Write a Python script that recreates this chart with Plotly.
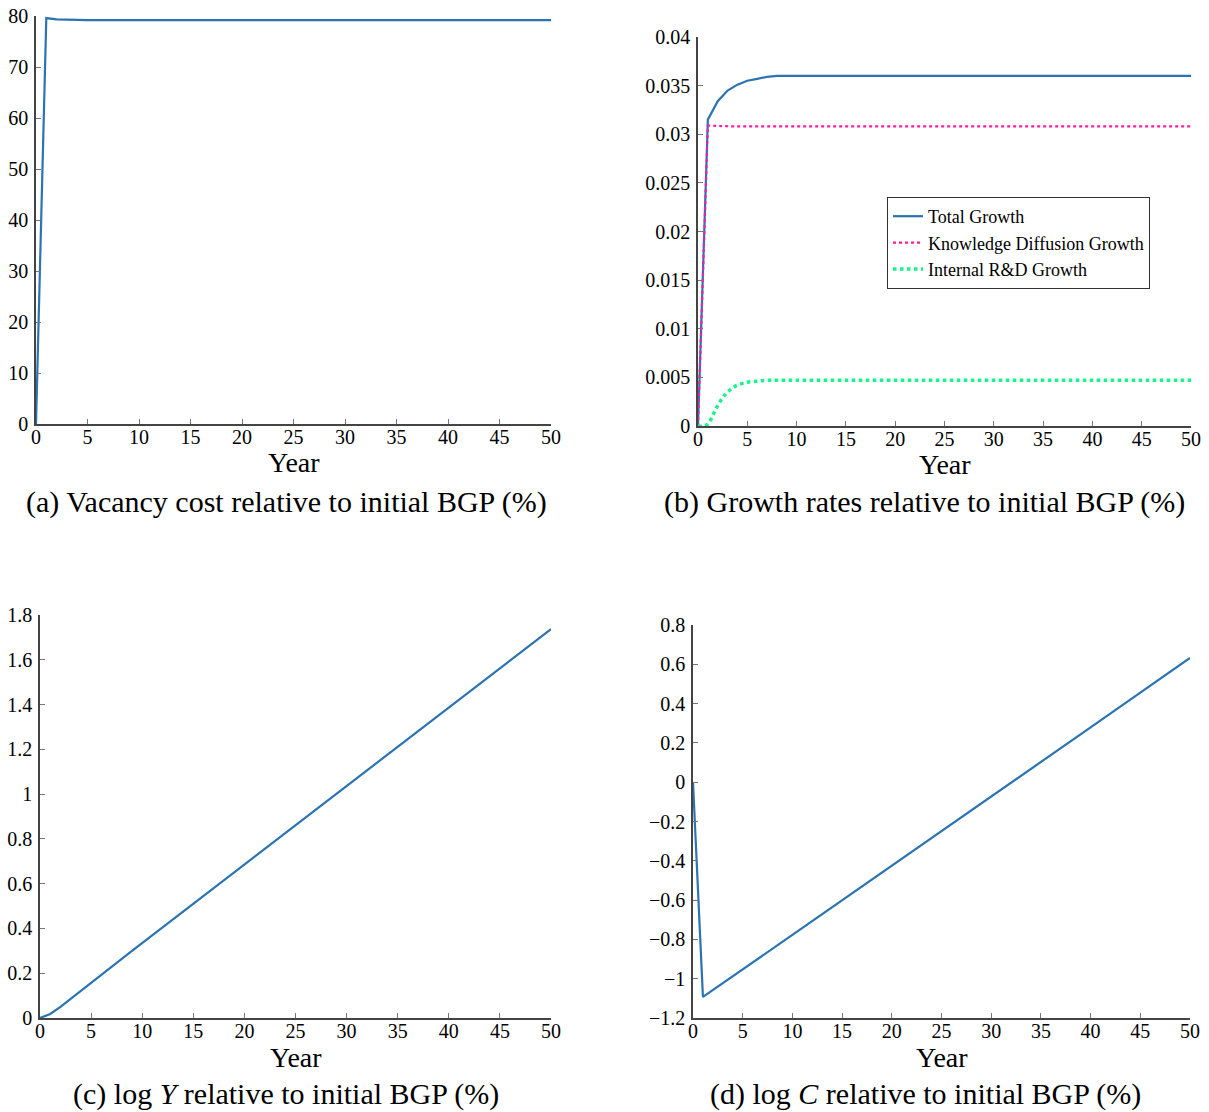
import plotly.graph_objects as go

# ---- data ----
yrs_a = [0, 1, 2, 3, 4, 5, 10, 20, 30, 40, 50]
vac_cost = [0, 79.6, 79.35, 79.25, 79.22, 79.2, 79.2, 79.2, 79.2, 79.2, 79.2]

yrs_b = [0, 1, 2, 3, 4, 5, 6, 7, 8, 9, 10, 20, 30, 40, 50]
total_growth = [0, 0.0315, 0.0334, 0.0345, 0.0351, 0.0355, 0.0357, 0.0359, 0.036, 0.036,
                0.036, 0.036, 0.036, 0.036, 0.036]
diffusion_growth = [0, 0.0309, 0.03085, 0.0308, 0.0308, 0.0308, 0.0308, 0.0308, 0.0308, 0.0308,
                    0.0308, 0.0308, 0.0308, 0.0308, 0.0308]
yrs_g = [0, 0.5, 1, 1.5, 2, 2.5, 3, 3.5, 4, 5, 6, 7, 8, 10, 20, 30, 40, 50]
internal_growth = [0, 0, 0.0002, 0.0011, 0.0021, 0.0029, 0.0035, 0.0039, 0.0042, 0.0045,
                   0.0046, 0.0047, 0.0047, 0.0047, 0.0047, 0.0047, 0.0047, 0.0047]

yrs_c = [0, 1, 2, 3, 4, 5, 6, 7, 8, 9, 10, 20, 30, 40, 50]
log_y = [0, 0.018, 0.05, 0.085, 0.122, 0.158, 0.193, 0.228, 0.264, 0.3, 0.335,
         0.685, 1.036, 1.386, 1.737]

yrs_d = [0, 1, 10, 20, 30, 40, 50]
log_c = [0, -1.093, -0.777, -0.426, -0.076, 0.279, 0.632]

x_ticks = [0, 5, 10, 15, 20, 25, 30, 35, 40, 45, 50]

captions = ["(a) Vacancy cost relative to initial BGP (%)",
            "(b) Growth rates relative to initial BGP (%)",
            "(c) log <i>Y</i> relative to initial BGP (%)",
            "(d) log <i>C</i> relative to initial BGP (%)"]

BLUE = "#2b73b2"
PINK = "#ff1aa0"
GREEN = "#14f58a"
FONT = "Liberation Serif"
W, H = 1209, 1112

fig = go.Figure()

def px_x(p):
    return p / W

def px_y(p):
    return 1 - p / H

# panel domains (pixels -> paper); caption centre x and y in pixels
panels = {
    1: dict(x=(36, 551), y=(16, 424), yr=[0, 80], dt=10, cap=(286, 502)),
    2: dict(x=(698, 1191), y=(37, 426), yr=[0, 0.04], dt=0.005, cap=(924, 502)),
    3: dict(x=(40, 551), y=(615, 1018), yr=[0, 1.8], dt=0.2, cap=(286, 1094)),
    4: dict(x=(693, 1190), y=(625, 1018), yr=[-1.2, 0.8], dt=0.2, cap=(925, 1094)),
}

fig.add_trace(go.Scatter(x=yrs_a, y=vac_cost, mode="lines", line=dict(color=BLUE, width=2.2),
                         xaxis="x", yaxis="y", showlegend=False))
fig.add_trace(go.Scatter(x=yrs_b, y=total_growth, mode="lines", name="Total Growth",
                         line=dict(color=BLUE, width=2.2), xaxis="x2", yaxis="y2"))
fig.add_trace(go.Scatter(x=yrs_b, y=diffusion_growth, mode="lines", name="Knowledge Diffusion Growth",
                         line=dict(color=PINK, width=2.2, dash="3px,3px"), xaxis="x2", yaxis="y2"))
fig.add_trace(go.Scatter(x=yrs_g, y=internal_growth, mode="lines", name="Internal R&amp;D Growth",
                         line=dict(color=GREEN, width=3.5, dash="dot", shape="spline"),
                         xaxis="x2", yaxis="y2"))
fig.add_trace(go.Scatter(x=yrs_c, y=log_y, mode="lines", line=dict(color=BLUE, width=2.2),
                         xaxis="x3", yaxis="y3", showlegend=False))
fig.add_trace(go.Scatter(x=yrs_d, y=log_c, mode="lines", line=dict(color=BLUE, width=2.2),
                         xaxis="x4", yaxis="y4", showlegend=False))

layout = dict(
    width=W, height=H, margin=dict(l=0, r=0, t=0, b=0, autoexpand=False),
    paper_bgcolor="white", plot_bgcolor="white",
    font=dict(family=FONT, color="black", size=18),
    legend=dict(x=px_x(887), y=px_y(197), xanchor="left", yanchor="top",
                bordercolor="#333", borderwidth=1, bgcolor="white",
                font=dict(family=FONT, size=18), tracegroupgap=0,
                itemwidth=30, traceorder="normal"),
)

annotations = []
for i, p in panels.items():
    s = "" if i == 1 else str(i)
    layout["xaxis" + s] = dict(
        domain=[px_x(p["x"][0]), px_x(p["x"][1])], anchor="y" + s, range=[0, 50],
        tickvals=x_ticks, ticks="inside", ticklen=5, tickcolor="#777", tickwidth=1,
        showline=True, linecolor="#444", linewidth=1.5, showgrid=False, zeroline=False,
        tickfont=dict(family=FONT, size=20), ticklabelstandoff=-6, automargin=False,
    )
    layout["yaxis" + s] = dict(
        domain=[px_y(p["y"][1]), px_y(p["y"][0])], anchor="x" + s, range=p["yr"],
        dtick=p["dt"], tick0=0, ticks="inside", ticklen=5, tickcolor="#777", tickwidth=1,
        showline=True, linecolor="#444", linewidth=1.5, showgrid=False, zeroline=False,
        tickfont=dict(family=FONT, size=20), ticklabelstandoff=2, automargin=False,
    )
    # x-axis title "Year"
    cx = (p["x"][0] + p["x"][1]) / 2
    annotations.append(dict(text="Year", x=px_x(cx), y=px_y(p["y"][1] + 39),
                            xref="paper", yref="paper", xanchor="center", yanchor="middle",
                            showarrow=False, font=dict(family=FONT, size=28)))
    annotations.append(dict(text=captions[i - 1], x=px_x(p["cap"][0]), y=px_y(p["cap"][1]),
                            xref="paper", yref="paper",
                            xanchor="center", yanchor="middle", showarrow=False,
                            font=dict(family=FONT, size=30)))
layout["annotations"] = annotations
fig.update_layout(**layout)

fig.write_html("out.html")
